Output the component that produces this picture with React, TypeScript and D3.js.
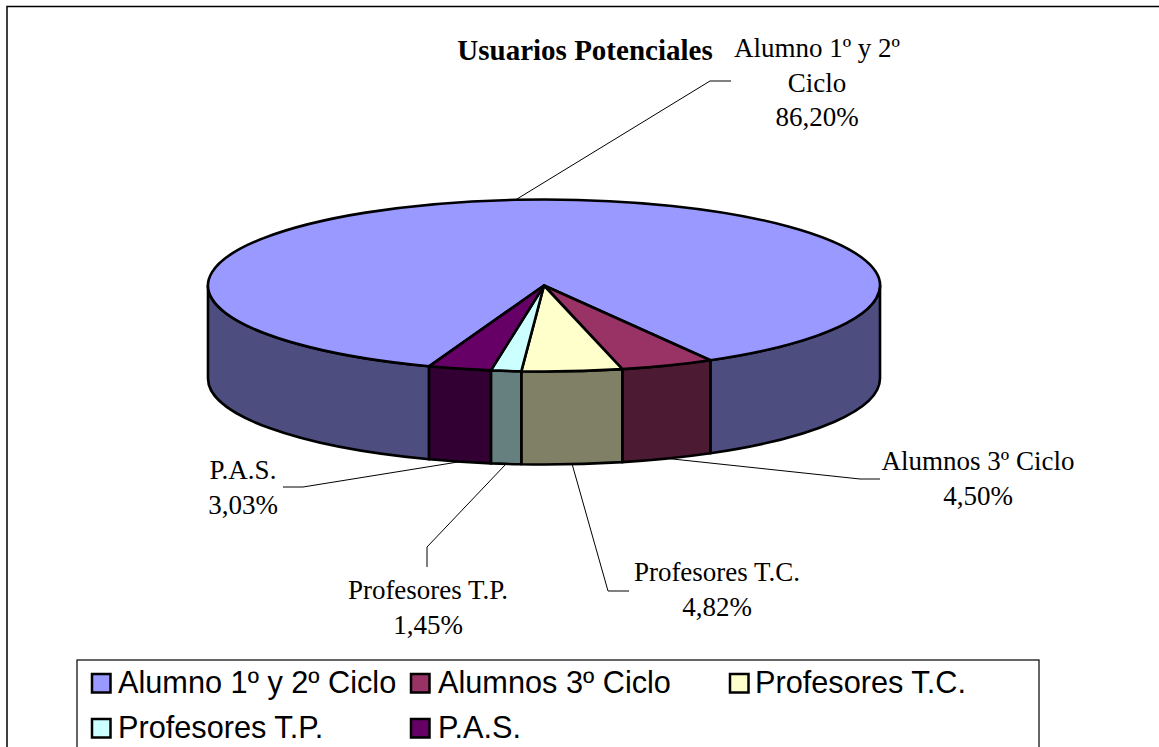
import React from 'react';
import * as d3 from 'd3';

const categories = ['Alumno 1º y 2º Ciclo', 'Alumnos 3º Ciclo', 'Profesores T.C.', 'Profesores T.P.', 'P.A.S.'];
const percents = [86.2, 4.5, 4.82, 1.45, 3.03];
const percentLabels = ['86,20%', '4,50%', '4,82%', '1,45%', '3,03%'];
const topColors = ['#9999FF', '#993366', '#FFFFCC', '#CCFFFF', '#660066'];
const sideColors = ['#4D4D80', '#4D1A33', '#808066', '#668080', '#330033'];

// label placement, one per slice
const labelLines = [['Alumno 1º y 2º', 'Ciclo'], ['Alumnos 3º Ciclo'], ['Profesores T.C.'], ['Profesores T.P.'], ['P.A.S.']];
const labelPos = [[817, 57], [978, 470], [717, 581], [428, 599], [243, 479]];
const leaderPts = [
  [[710, 81], [731, 81]],
  [[860, 479], [880, 479]],
  [[608, 591], [629, 591]],
  [[427, 547], [427, 567]],
  [[303, 487], [283, 487]],
];

const W = 1159;
const H = 747;
const cx = 544;
const cy = 285.5;
const rx = 336;
const ry = 86;
const depth = 93;
const startDeg = 200;
const rad = Math.PI / 180;

const px = (a: number) => cx + rx * Math.sin(a);
const py = (a: number) => cy - ry * Math.cos(a);

const pie = d3.pie<number>().sort(null).startAngle(startDeg * rad).endAngle((startDeg + 360) * rad);
const arcs = pie(percents);
const arcGen = d3.arc<d3.PieArcDatum<number>>().innerRadius(0).outerRadius(rx);
const line = d3.line();

// part of the rim facing the viewer (angles 90..270 deg, also checked one turn up)
function frontSpans(a0: number, a1: number) {
  const spans: [number, number][] = [];
  [0, 2 * Math.PI].forEach(off => {
    const s = Math.max(a0, Math.PI / 2 + off);
    const e = Math.min(a1, 1.5 * Math.PI + off);
    if (e > s) spans.push([s, e]);
  });
  return spans;
}

function sidePath(s: number, e: number) {
  return `M${px(s)},${py(s)}A${rx},${ry} 0 0 1 ${px(e)},${py(e)}` +
    `L${px(e)},${py(e) + depth}A${rx},${ry} 0 0 0 ${px(s)},${py(s) + depth}Z`;
}

const swatchX = [92, 411, 730];
const legendTextX = [118, 438, 755];
const legendBase = [693, 738];

export default function App() {
  return (
    <svg width={W} height={H} style={{ position: 'absolute', left: 0, top: 0, background: '#fff' }}>
      <path d={`M7,${H}V6.5H${W}`} fill="none" stroke="#000" strokeWidth={1.5} />
      <text x={585} y={60} textAnchor="middle" fontFamily="Liberation Serif" fontWeight="bold" fontSize={29}>Usuarios Potenciales</text>

      {arcs.flatMap((d, i) => frontSpans(d.startAngle, d.endAngle).map(([s, e], j) => (
        <path key={`side${i}-${j}`} d={sidePath(s, e)} fill={sideColors[i]} stroke="#000" strokeWidth={2.6} strokeLinejoin="round" />
      )))}
      <g transform={`translate(${cx},${cy}) scale(1,${ry / rx})`}>
        {arcs.map((d, i) => (
          <path key={i} d={arcGen(d) as string} fill={topColors[i]} stroke="#000" strokeWidth={2.6} strokeLinejoin="round" style={{ vectorEffect: 'non-scaling-stroke' }} />
        ))}
      </g>

      {arcs.map((d, i) => {
        const mid = (d.startAngle + d.endAngle) / 2;
        const onFront = Math.cos(mid) < 0;
        const start: [number, number] = [px(mid), py(mid) + (onFront ? depth : 0)];
        const pts = [start, ...leaderPts[i]] as [number, number][];
        return <path key={i} d={line(pts) as string} fill="none" stroke="#000" strokeWidth={1} />;
      })}

      {categories.map((c, i) => {
        const lines = [...labelLines[i], percentLabels[i]];
        return (
          <text key={c} textAnchor="middle" fontFamily="Liberation Serif" fontSize={27} fill="#000">
            {lines.map((t, k) => (
              <tspan key={k} x={labelPos[i][0]} y={labelPos[i][1] + k * 34.5}>{t}</tspan>
            ))}
          </text>
        );
      })}

      <rect x={77} y={660} width={962} height={100} fill="#fff" stroke="#000" strokeWidth={1.2} />
      {categories.map((c, i) => {
        const col = i % 3;
        const y = legendBase[Math.floor(i / 3)];
        return (
          <g key={c}>
            <rect x={swatchX[col]} y={y - 19} width={18.5} height={18.5} fill={topColors[i]} stroke="#000" strokeWidth={2.5} />
            <text x={legendTextX[col]} y={y} fontFamily="Liberation Sans" fontSize={30.7} fill="#000">{c}</text>
          </g>
        );
      })}
    </svg>
  );
}
